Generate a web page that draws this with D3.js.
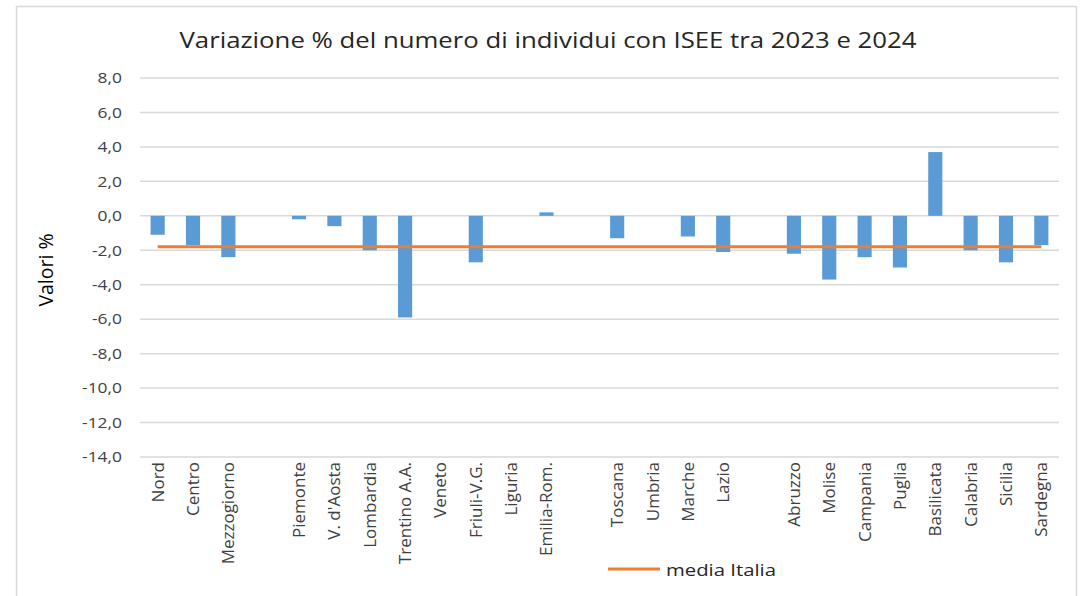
<!DOCTYPE html>
<html>
<head>
<meta charset="utf-8">
<script src="https://cdn.jsdelivr.net/npm/d3@7"></script>
<style>
  body { margin: 0; background: #fff; }
  text { font-family: "Open Sans", "Noto Sans", sans-serif; }
</style>
</head>
<body>
<div id="chart"></div>
<script>
// categories ("" = empty slot between groups)
var categories = ["Nord", "Centro", "Mezzogiorno", "",
    "Piemonte", "V. d'Aosta", "Lombardia", "Trentino A.A.", "Veneto", "Friuli-V.G.", "Liguria", "Emilia-Rom.", "",
    "Toscana", "Umbria", "Marche", "Lazio", "",
    "Abruzzo", "Molise", "Campania", "Puglia", "Basilicata", "Calabria", "Sicilia", "Sardegna"];
// variazione % (null = nessun valore)
var variazione = [-1.1, -1.7, -2.4, null,
    -0.2, -0.6, -2.0, -5.9, 0, -2.7, 0, 0.2, null,
    -1.3, 0, -1.2, -2.1, null,
    -2.2, -3.7, -2.4, -3.0, 3.7, -2.0, -2.7, -1.7];
var mediaItalia = -1.8;
var yTicks = [8, 6, 4, 2, 0, -2, -4, -6, -8, -10, -12, -14];

var W = 1091, H = 596;
var plotLeft = 140, plotRight = 1059, plotTop = 78, plotBottom = 457;
var stretch = 1.16; // horizontal text is wider in the original

var svg = d3.select("#chart").append("svg")
    .attr("width", W)
    .attr("height", H);

// chart border
svg.append("rect")
    .attr("x", 16.5).attr("y", 6.5)
    .attr("width", 1060).attr("height", 600)
    .style("fill", "none")
    .style("stroke", "#d9d9d9")
    .style("stroke-width", 1.5);

var x = d3.scaleBand()
    .domain(d3.range(categories.length))
    .range([plotLeft, plotRight])
    .paddingInner(0.6)
    .paddingOuter(0.3);

var y = d3.scaleLinear()
    .domain([-14, 8])
    .range([plotBottom, plotTop]);

// gridlines
svg.append("g").selectAll("line").data(yTicks)
  .enter().append("line")
    .attr("x1", plotLeft).attr("x2", plotRight)
    .attr("y1", function(d){ return y(d); })
    .attr("y2", function(d){ return y(d); })
    .style("stroke", "#d9d9d9")
    .style("stroke-width", 1.5);

// y axis labels
var fmt = function(d){ return d.toFixed(1).replace(".", ","); };
var yAxis = d3.axisLeft(y).tickValues(yTicks).tickFormat(fmt).tickSize(0).tickPadding(18);
var ya = svg.append("g").attr("transform", "translate(" + plotLeft + ",0)").call(yAxis);
ya.select(".domain").remove();
ya.selectAll("text")
    .attr("x", -18 / stretch)
    .attr("transform", "scale(" + stretch + ",1)")
    .style("font-family", "'Open Sans', sans-serif")
    .style("font-size", "15px")
    .style("fill", "#404040");

// bars
svg.append("g").selectAll("rect")
    .data(variazione.map(function(v, i){ return {i: i, v: v}; })
        .filter(function(d){ return d.v !== null && d.v !== 0; }))
  .enter().append("rect")
    .attr("x", function(d){ return x(d.i); })
    .attr("width", x.bandwidth())
    .attr("y", function(d){ return y(Math.max(0, d.v)); })
    .attr("height", function(d){ return Math.abs(y(d.v) - y(0)); })
    .style("fill", "#5b9bd5");

// media Italia line
var cx = function(i){ return x(i) + x.bandwidth() / 2; };
svg.append("line")
    .attr("x1", cx(0)).attr("x2", cx(categories.length - 1))
    .attr("y1", y(mediaItalia)).attr("y2", y(mediaItalia))
    .style("stroke", "#ed7d31")
    .style("stroke-width", 3);

// x labels, rotated
svg.append("g").selectAll("text")
    .data(categories.map(function(c, i){ return {i: i, c: c}; }).filter(function(d){ return d.c !== ""; }))
  .enter().append("text")
    .attr("transform", function(d){ return "translate(" + (cx(d.i) + 6) + "," + (plotBottom + 5) + ") rotate(-90)"; })
    .attr("text-anchor", "end")
    .style("font-size", "17px")
    .style("fill", "#404040")
    .text(function(d){ return d.c; });

// title
svg.append("text")
    .attr("x", 548).attr("y", 48)
    .attr("text-anchor", "middle")
    .attr("textLength", 737)
    .attr("lengthAdjust", "spacingAndGlyphs")
    .style("font-size", "22px")
    .style("fill", "#262626")
    .text("Variazione % del numero di individui con ISEE tra 2023 e 2024");

// y title
svg.append("text")
    .attr("transform", "translate(53,270) rotate(-90)")
    .attr("text-anchor", "middle")
    .style("font-size", "19.5px")
    .style("fill", "#000")
    .text("Valori %");

// legend
svg.append("line")
    .attr("x1", 608).attr("x2", 660)
    .attr("y1", 569).attr("y2", 569)
    .style("stroke", "#ed7d31")
    .style("stroke-width", 3);
svg.append("text")
    .attr("x", 666).attr("y", 576)
    .attr("textLength", 110)
    .attr("lengthAdjust", "spacingAndGlyphs")
    .style("font-size", "17px")
    .style("fill", "#262626")
    .text("media Italia");
</script>
</body>
</html>
